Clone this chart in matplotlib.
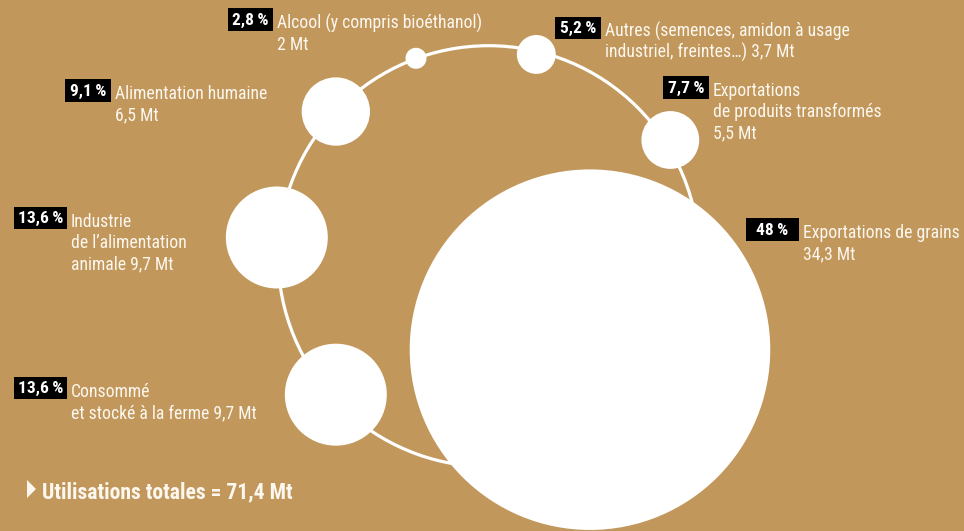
import numpy as np
import matplotlib
matplotlib.use("Agg")
import matplotlib.pyplot as plt
from matplotlib.patches import Circle, Rectangle, Polygon
from matplotlib import font_manager

# ---------------- data ----------------
categories = [
    "Alcool (y compris bioéthanol)",
    "Autres (semences, amidon à usage industriel, freintes…)",
    "Alimentation humaine",
    "Exportations de produits transformés",
    "Industrie de l’alimentation animale",
    "Exportations de grains",
    "Consommé et stocké à la ferme",
]
values_mt = [2.0, 3.7, 6.5, 5.5, 9.7, 34.3, 9.7]
percent_labels = ["2,8 %", "5,2 %", "9,1 %", "7,7 %", "13,6 %", "48 %", "13,6 %"]
label_templates = [
    "Alcool (y compris bioéthanol)\n{v} Mt",
    "Autres (semences, amidon à usage\nindustriel, freintes…) {v} Mt",
    "Alimentation humaine\n{v} Mt",
    "Exportations\nde produits transformés\n{v} Mt",
    "Industrie\nde l’alimentation\nanimale {v} Mt",
    "Exportations de grains\n{v} Mt",
    "Consommé\net stocké à la ferme {v} Mt",
]
total_title = "Utilisations totales = {t} Mt"

# ---------------- layout (pixels) ----------------
W, H = 964, 531
ring_c = (488.6, 256.2)
ring_r = 210.5
px_per_mt = 5.256
# polar placement of each circle around ring centre (deg, distance)
angles = [110.15, 76.7, 136.56, 32.6, 174.95, -42.68, 222.19]
dists = [210.8, 207.3, 210.4, 215.7, 212.6, 137.9, 206.2]
# label anchors: text x start, first-line baseline
label_x = [277, 605, 115, 713, 70.7, 803, 70.7]
label_b = [28.3, 36.7, 99, 96, 226.7, 238.3, 396.7]
box_w = [45, 46, 46, 46, 53, 53, 53]
line_pitch = 21.3

BG = "#C1975B"
TXT = "#FCF7EF"

avail = {f.name for f in font_manager.fontManager.ttflist}
fams = [f for f in ["Liberation Sans Narrow", "Roboto Condensed", "Roboto", "DejaVu Sans"] if f in avail]
plt.rcParams["font.family"] = fams

fig = plt.figure(figsize=(W / 100, H / 100), dpi=100, facecolor=BG)
ax = fig.add_axes([0, 0, 1, 1])
ax.set_xlim(0, W)
ax.set_ylim(H, 0)
ax.set_facecolor(BG)
ax.axis("off")

# ring
ax.add_patch(Circle(ring_c, ring_r, fill=False, ec="white", lw=2.3, zorder=1))

# circles, radius proportional to value
for v, a, d in zip(values_mt, angles, dists):
    t = np.deg2rad(a)
    x = ring_c[0] + d * np.cos(t)
    y = ring_c[1] - d * np.sin(t)
    ax.add_patch(Circle((x, y), v * px_per_mt, fc="white", ec="none", zorder=2))

def fmt(v):
    s = f"{v:.1f}".rstrip("0").rstrip(".")
    return s.replace(".", ",")

for v, pct, tmpl, lx, lb, bw in zip(values_mt, percent_labels, label_templates,
                                     label_x, label_b, box_w):
    lines = tmpl.format(v=fmt(v)).split("\n")
    for i, ln in enumerate(lines):
        ax.text(lx, lb + i * line_pitch, ln, color=TXT, fontsize=12.7,
                ha="left", va="baseline", zorder=4)
    right = lx - 4
    top = lb - 20
    ax.add_patch(Rectangle((right - bw, top), bw, 22.5, fc="black", ec="none", zorder=3))
    ax.text(right - bw / 2, lb - 3.4, pct.replace(" ", "\u2009"), color="white",
            fontsize=12.5, fontweight="bold", ha="center", va="baseline", zorder=4)

# total
ax.add_patch(Polygon([[27, 480], [36, 489], [27, 498]], closed=True, fc=TXT, ec="none"))
ax.text(41.5, 498, total_title.format(t=fmt(sum(values_mt))), color=TXT,
        fontsize=15.6, fontweight="bold", ha="left", va="baseline")

fig.savefig("out.png", dpi=100, facecolor=BG)
